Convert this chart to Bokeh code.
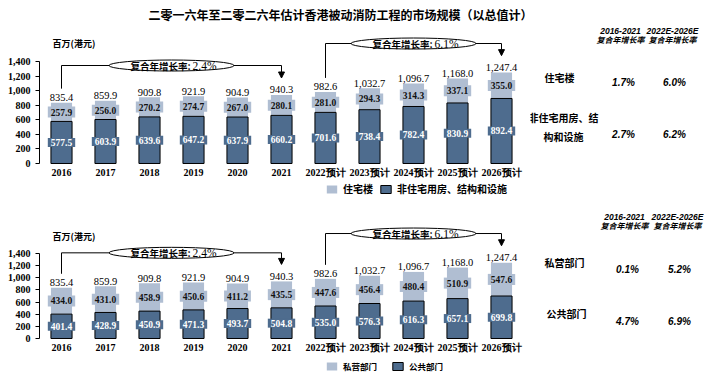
from bokeh.plotting import figure
from bokeh.layouts import column, row
from bokeh.models import (Range1d, FactorRange, FixedTicker, NumeralTickFormatter,
                          Legend, LegendItem, ColumnDataSource, Label, Arrow, NormalHead)
from bokeh.core.properties import value
from bokeh.embed import file_html
from bokeh.resources import INLINE

# ---------------- data ----------------
title_text = "二零一六年至二零二六年估计香港被动消防工程的市场规模（以总值计）"
unit_label = "百万(港元)"
years = ["2016", "2017", "2018", "2019", "2020", "2021",
         "2022预计", "2023预计", "2024预计", "2025预计", "2026预计"]

# panel 1: by building type
residential = [257.9, 256.0, 270.2, 274.7, 267.0, 280.1, 281.0, 294.3, 314.3, 337.1, 355.0]
non_residential = [577.5, 603.9, 639.6, 647.2, 637.9, 660.2, 701.6, 738.4, 782.4, 830.9, 892.4]
totals = [835.4, 859.9, 909.8, 921.9, 904.9, 940.3, 982.6, 1032.7, 1096.7, 1168.0, 1247.4]

# panel 2: by sector
private_sector = [434.0, 431.0, 458.9, 450.6, 411.2, 435.5, 447.6, 456.4, 480.4, 510.9, 547.6]
public_sector = [401.4, 428.9, 450.9, 471.3, 493.7, 504.8, 535.0, 576.3, 616.3, 657.1, 699.8]

cagr_prefix = "复合年增长率:"
cagr_values = ["2.4%", "6.1%"]
cagr_spans = [("2016", "2021"), ("2022预计", "2026预计")]

series1_names = ["住宅楼", "非住宅用房、结构和设施"]
series2_names = ["私营部门", "公共部门"]

table_headers = ["2016-2021", "2022E-2026E"]
table_sub = "复合年增长率"
table1_rows = ["住宅楼", "非住宅用房、结\n构和设施"]
table1_hist = ["1.7%", "2.7%"]
table1_fcst = ["6.0%", "6.2%"]
table2_rows = ["私营部门", "公共部门"]
table2_hist = ["0.1%", "4.7%"]
table2_fcst = ["5.2%", "6.9%"]

y_ticks = [0, 200, 400, 600, 800, 1000, 1200, 1400]

# ---------------- style ----------------
DARK = "#4e6c8e"
LIGHT = "#b0bed2"
SERIF = "Liberation Serif"
CJK = "Noto Sans CJK SC"
SANS = "Liberation Sans"


def make_chart(lower, upper, tot, names, y_lo, y_hi, px_per_unit, bracket_tops,
               legend_font, legend_spacing):
    p = figure(width=530, height=176, x_range=FactorRange(*years),
               y_range=Range1d(y_lo, y_hi), output_backend="svg", toolbar_location=None,
               min_border_left=39, min_border_right=7, min_border_top=0, min_border_bottom=0,
               outline_line_color=None, background_fill_color="white")
    p.grid.visible = False

    top = [a + b for a, b in zip(lower, upper)]
    src = ColumnDataSource(dict(
        x=years, lower=lower, top=top, tot=tot,
        mid_lo=[a / 2 for a in lower],
        mid_up=[a + b / 2 for a, b in zip(lower, upper)],
        lo_txt=[f"{v:.1f}" for v in lower],
        up_txt=[f"{v:.1f}" for v in upper],
        tot_txt=[f"{v:,.1f}" for v in tot],
    ))
    r_up = p.vbar(x="x", bottom="lower", top="top", width=0.48, source=src,
                  fill_color=LIGHT, line_color=None)
    r_lo = p.vbar(x="x", bottom=0, top="lower", width=0.48, source=src,
                  fill_color=DARK, line_color="black", line_width=1)

    p.text(x="x", y="mid_lo", text="lo_txt", source=src, text_align="center",
           text_baseline="middle", text_color="white", text_font=value(SERIF),
           text_font_style="bold", text_font_size="9.5px",
           background_fill_color=DARK, padding=(3, 1))
    p.text(x="x", y="mid_up", text="up_txt", source=src, text_align="center",
           text_baseline="middle", text_color="#111111", text_font=value(SERIF),
           text_font_style="bold", text_font_size="9.5px",
           background_fill_color=LIGHT, padding=(3, 2))
    p.text(x="x", y="tot", text="tot_txt", source=src, text_align="center",
           text_baseline="alphabetic", y_offset=-5, text_color="black",
           text_font=value(SERIF), text_font_size="10.5px")

    # CAGR brackets
    upu = 1.0 / px_per_unit
    for (a, b), ytop, val in zip(cagr_spans, bracket_tops, cagr_values):
        i, j = years.index(a), years.index(b)
        xl, xr = i + 0.5, j + 0.5
        y_left = tot[i] + 14 * upu
        y_tip = tot[j] + 17 * upu
        p.line(x=[xl, xl, xr], y=[y_left, ytop, ytop], line_color="black", line_width=1)
        p.add_layout(Arrow(end=NormalHead(size=6, fill_color="black", line_color="black"),
                           x_start=xr, y_start=ytop, x_end=xr, y_end=y_tip,
                           line_color="black", line_width=1))
        xm = (xl + xr) / 2
        p.ellipse(x=[xm], y=[ytop], width=125, height=11, width_units="screen",
                  height_units="screen", fill_color="white", line_color="black", line_width=1)
        p.text(x=[xm], y=[ytop], text=[cagr_prefix], x_offset=19, text_align="right",
               text_baseline="middle", text_font=value(CJK), text_font_style="bold",
               text_font_size="9.5px", text_color="black")
        p.text(x=[xm], y=[ytop], text=[val], x_offset=21, text_align="left",
               text_baseline="middle", text_font=value(SERIF),
               text_font_size="11.5px", text_color="black")

    # axes
    p.xaxis.fixed_location = 0
    p.xaxis.axis_line_color = None
    p.xaxis.major_tick_line_color = None
    p.xaxis.major_tick_out = 0
    p.xaxis.major_label_standoff = 4
    p.xaxis.major_label_text_font = SERIF
    p.xaxis.major_label_text_font_style = "bold"
    p.xaxis.major_label_text_font_size = "10px"
    p.xaxis.major_label_text_color = "black"

    p.yaxis.ticker = FixedTicker(ticks=y_ticks)
    p.yaxis.formatter = NumeralTickFormatter(format="0,0")
    p.yaxis.bounds = (0, 1400)
    p.yaxis.axis_line_color = "black"
    p.yaxis.major_tick_line_color = "black"
    p.yaxis.major_tick_out = 4
    p.yaxis.major_tick_in = 0
    p.yaxis.minor_tick_line_color = None
    p.yaxis.major_label_standoff = 5
    p.yaxis.major_label_text_font = SERIF
    p.yaxis.major_label_text_font_style = "bold"
    p.yaxis.major_label_text_font_size = "10px"
    p.yaxis.major_label_text_color = "black"

    legend = Legend(items=[LegendItem(label=names[0], renderers=[r_up]),
                           LegendItem(label=names[1], renderers=[r_lo])],
                    location=(286, 4), orientation="horizontal",
                    glyph_width=13, glyph_height=10, label_standoff=5,
                    spacing=legend_spacing,
                    padding=0, margin=0, border_line_color=None, background_fill_alpha=0,
                    label_text_font=CJK, label_text_font_style="bold",
                    label_text_color="black",
                    label_text_font_size=legend_font, label_height=10)
    p.add_layout(legend)
    return p


def make_table(rows, hist, fcst, hx, ry, vy, head_y):
    t = figure(width=174, height=176, x_range=Range1d(0, 174), y_range=Range1d(176, 0),
               output_backend="svg", toolbar_location=None, x_axis_type=None,
               y_axis_type=None, min_border=0, outline_line_color=None)
    t.grid.visible = False
    t.text(x=hx, y=[head_y] * 2, text=table_headers, text_align="center",
           text_baseline="middle", text_font=value(SANS), text_font_style="bold italic",
           text_font_size="8.5px", text_color="black")
    t.text(x=hx, y=[head_y + 8.5] * 2, text=[table_sub] * 2, text_align="center",
           text_baseline="middle", text_font=value(CJK), text_font_style="bold italic",
           text_font_size="8px", text_color="black")
    t.text(x=[rx for rx, _ in ry], y=[yy for _, yy in ry], text=rows, text_align="center",
           text_baseline="middle", text_font=value(CJK), text_font_style="bold",
           text_font_size="10px", text_color="black", text_line_height=1.25)
    vx = [hx[0] + 3, hx[1] + 2]
    t.text(x=[vx[0]] * 2, y=vy, text=hist, text_align="center", text_baseline="middle",
           text_font=value(SANS), text_font_style="bold italic", text_font_size="10px",
           text_color="black")
    t.text(x=[vx[1]] * 2, y=vy, text=fcst, text_align="center", text_baseline="middle",
           text_font=value(SANS), text_font_style="bold italic", text_font_size="10px",
           text_color="black")
    return t


# title strip
title_fig = figure(width=704, height=24, x_range=Range1d(0, 704), y_range=Range1d(24, 0),
                   output_backend="svg", toolbar_location=None, x_axis_type=None,
                   y_axis_type=None, min_border=0, outline_line_color=None)
title_fig.grid.visible = False
title_fig.text(x=[340], y=[14], text=[title_text], text_align="center", text_baseline="middle",
               text_font=value(CJK), text_font_style="bold", text_font_size="12px",
               text_color="black")

p1 = make_chart(non_residential, residential, totals, series1_names,
                -508, 1908, 102 / 1400, [1345, 1647], "10px", 6)
p1.add_layout(Label(x=13, y=157.5, x_units="screen", y_units="screen", text=unit_label,
                    text_font=CJK, text_font_style="bold", text_font_size="9px",
                    text_baseline="middle", text_color="black"))
p2 = make_chart(public_sector, private_sector, totals, series2_names,
                -626, 2273, 85 / 1400, [1411, 1729], "8.5px", 14)
p2.add_layout(Label(x=13, y=140, x_units="screen", y_units="screen", text=unit_label,
                    text_font=CJK, text_font_style="bold", text_font_size="9px",
                    text_baseline="middle", text_color="black"))

t1 = make_table(table1_rows, table1_hist, table1_fcst, [90, 142],
                [(29, 53), (33, 102.5)], [58, 110], 6)
t2 = make_table(table2_rows, table2_hist, table2_fcst, [94, 147],
                [(34, 62), (36, 113)], [69, 121], 16)

layout = column(title_fig, row(p1, t1), row(p2, t2))
open("out.html", "w").write(file_html(layout, INLINE))
